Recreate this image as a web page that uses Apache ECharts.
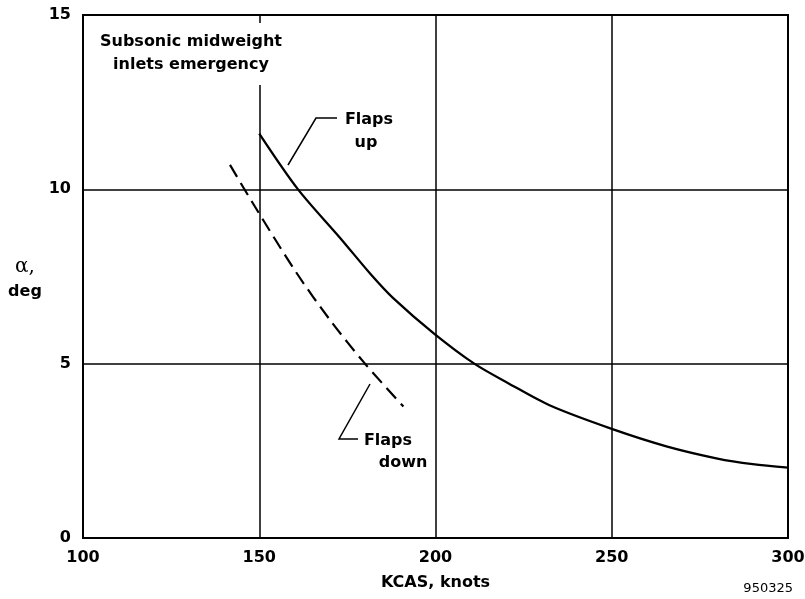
<!DOCTYPE html>
<html>
<head>
<meta charset="utf-8">
<script src="https://cdn.jsdelivr.net/npm/echarts@6/dist/echarts.min.js"></script>
<style>
  html, body { margin: 0; padding: 0; background: #fff; }
  #chart { width: 805px; height: 599px; }
</style>
</head>
<body>
<div id="chart"></div>
<script>
    // KCAS (knots) vs angle of attack (deg)
    var flapsUpKcas  = [150, 161, 173, 181.5, 188, 199.5, 211, 221, 232.5, 250, 265.5, 280, 290, 300];
    var flapsUpAlpha = [11.6, 10.0, 8.6, 7.58, 6.88, 5.87, 5.0, 4.42, 3.8, 3.13, 2.63, 2.28, 2.12, 2.02];
    var flapsDownKcas  = [141.7, 148.8, 160.6, 170.1, 180, 190.9];
    var flapsDownAlpha = [10.7, 9.5, 7.6, 6.25, 5.0, 3.77];
    var xTicks = [100, 150, 200, 250, 300];
    var yTicks = [0, 5, 10, 15];

    var FONT = '"DejaVu Sans", "Liberation Sans", sans-serif';

    function pairs(xs, ys) {
        return xs.map(function (x, i) { return [x, ys[i]]; });
    }

    var option = {
        animation: false,
        backgroundColor: '#fff',
        grid: {
            left: 83, right: 17, top: 15, bottom: 61,
            outerBoundsMode: 'none',
            containLabel: false,
            show: true, borderColor: '#000', borderWidth: 2
        },
        xAxis: {
            type: 'value',
            min: xTicks[0], max: xTicks[xTicks.length - 1], interval: 50,
            name: 'KCAS, knots',
            nameLocation: 'middle',
            nameGap: 37,
            nameTextStyle: { color: '#000', fontFamily: FONT, fontWeight: 'bold', fontSize: 16 },
            axisLine: { show: true, lineStyle: { color: '#000', width: 2 } },
            axisTick: { show: false },
            axisLabel: { color: '#000', fontFamily: FONT, fontWeight: 'bold', fontSize: 16, margin: 12 },
            splitLine: { show: true, lineStyle: { color: '#000', width: 1.5 } }
        },
        yAxis: {
            type: 'value',
            min: yTicks[0], max: yTicks[yTicks.length - 1], interval: 5,
            axisLine: { show: true, lineStyle: { color: '#000', width: 2 } },
            axisTick: { show: false },
            axisLabel: { color: '#000', fontFamily: FONT, fontWeight: 'bold', fontSize: 16, margin: 12 },
            splitLine: { show: true, lineStyle: { color: '#000', width: 1.5 } }
        },
        series: [
            {
                name: 'Flaps up',
                type: 'line',
                data: pairs(flapsUpKcas, flapsUpAlpha),
                showSymbol: false,
                smooth: 0.3,
                lineStyle: { color: '#000', width: 2.3 },
                z: 5
            },
            {
                name: 'Flaps down',
                type: 'line',
                data: pairs(flapsDownKcas, flapsDownAlpha),
                showSymbol: false,
                smooth: 0.3,
                lineStyle: { color: '#000', width: 2.2, type: [14, 7] },
                z: 5
            }
        ],
        graphic: [
            // white box behind the title, breaks the 150 gridline
            { type: 'rect', z: 50, shape: { x: 92, y: 23, width: 195, height: 62 }, style: { fill: '#fff' } },
            { type: 'text', z: 51, x: 191, y: 42, style: { text: 'Subsonic midweight', fill: '#000', font: 'bold 16px ' + FONT, align: 'center', verticalAlign: 'middle' } },
            { type: 'text', z: 51, x: 191, y: 65, style: { text: 'inlets emergency', fill: '#000', font: 'bold 16px ' + FONT, align: 'center', verticalAlign: 'middle' } },

            // flaps up label
            { type: 'polyline', z: 51, shape: { points: [[337, 118], [316, 118], [288, 165]] }, style: { stroke: '#000', lineWidth: 1.5, fill: null } },
            { type: 'text', z: 51, x: 369, y: 120, style: { text: 'Flaps', fill: '#000', font: 'bold 16px ' + FONT, align: 'center', verticalAlign: 'middle' } },
            { type: 'text', z: 51, x: 366, y: 143, style: { text: 'up', fill: '#000', font: 'bold 16px ' + FONT, align: 'center', verticalAlign: 'middle' } },

            // flaps down label
            { type: 'polyline', z: 51, shape: { points: [[358, 439], [339, 439], [370, 384]] }, style: { stroke: '#000', lineWidth: 1.5, fill: null } },
            { type: 'text', z: 51, x: 388, y: 441, style: { text: 'Flaps', fill: '#000', font: 'bold 16px ' + FONT, align: 'center', verticalAlign: 'middle' } },
            { type: 'text', z: 51, x: 403, y: 463, style: { text: 'down', fill: '#000', font: 'bold 16px ' + FONT, align: 'center', verticalAlign: 'middle' } },

            // y axis name
            { type: 'text', z: 51, x: 25, y: 267, style: { text: 'α,', fill: '#000', font: '20px "DejaVu Serif", "Liberation Serif", serif', align: 'center', verticalAlign: 'middle' } },
            { type: 'text', z: 51, x: 25, y: 292, style: { text: 'deg', fill: '#000', font: 'bold 16px ' + FONT, align: 'center', verticalAlign: 'middle' } },

            // figure number
            { type: 'text', z: 51, x: 793, y: 589, style: { text: '950325', fill: '#000', font: '13px ' + FONT, align: 'right', verticalAlign: 'middle' } }
        ]
    };

    var chart = echarts.init(document.getElementById('chart'));
    chart.setOption(option);
</script>
</body>
</html>
